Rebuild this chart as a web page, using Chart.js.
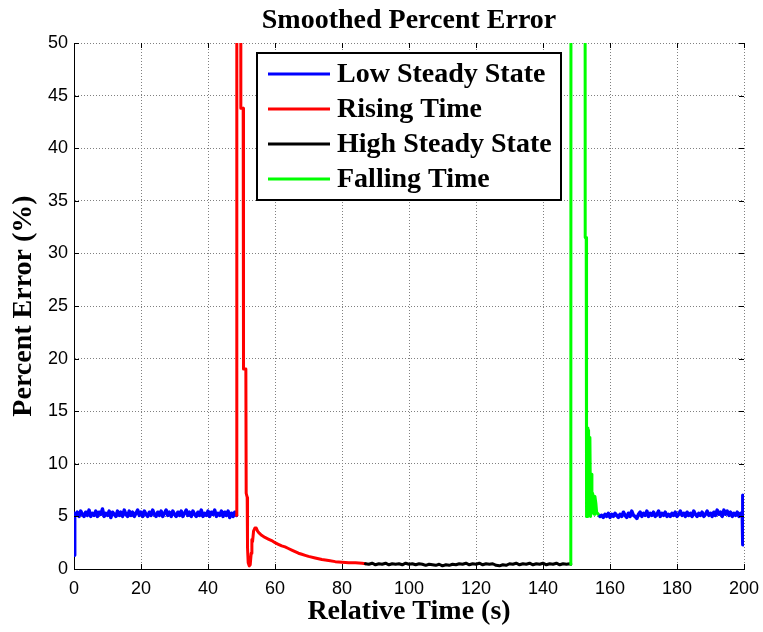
<!DOCTYPE html>
<html>
<head>
<meta charset="utf-8">
<script src="https://cdn.jsdelivr.net/npm/chart.js@4/dist/chart.umd.min.js"></script>
<style>
html,body{margin:0;padding:0;background:#fff;}
canvas{display:block;}
</style>
</head>
<body>
<canvas id="c" width="763" height="632"></canvas>
<script>
// ---- Data ----
const chartTitle = 'Smoothed Percent Error';
const xTitle = 'Relative Time (s)';
const yTitle = 'Percent Error (%)';
const legendLabels = ['Low Steady State', 'Rising Time', 'High Steady State', 'Falling Time'];
const seriesColors = ['#0000ff', '#ff0000', '#000000', '#00ff00'];

const lowTimes1 = [0, 0.2,
  0.5, 1, 1.5, 2, 2.5, 3, 3.5, 4, 4.5, 5,
  5.5, 6, 6.5, 7, 7.5, 8, 8.5, 9, 9.5, 10,
  10.5, 11, 11.5, 12, 12.5, 13, 13.5, 14, 14.5, 15,
  15.5, 16, 16.5, 17, 17.5, 18, 18.5, 19, 19.5, 20,
  20.5, 21, 21.5, 22, 22.5, 23, 23.5, 24, 24.5, 25,
  25.5, 26, 26.5, 27, 27.5, 28, 28.5, 29, 29.5, 30,
  30.5, 31, 31.5, 32, 32.5, 33, 33.5, 34, 34.5, 35,
  35.5, 36, 36.5, 37, 37.5, 38, 38.5, 39, 39.5, 40,
  40.5, 41, 41.5, 42, 42.5, 43, 43.5, 44, 44.5, 45,
  45.5, 46, 46.5, 47, 47.5, 48, 48.5];
const lowValues1 = [1.3, 5.3,
  5.1, 5.4, 5.0, 5.5, 5.2, 5.0, 5.4, 5.1, 5.6, 5.0,
  5.3, 5.1, 5.5, 5.0, 5.4, 5.2, 5.7, 5.0, 5.3, 5.1,
  5.5, 4.9, 5.4, 5.2, 5.0, 5.5, 5.1, 5.4, 5.0, 5.6,
  5.2, 5.0, 5.5, 5.1, 5.4, 5.0, 5.3, 5.6, 5.1, 5.4,
  5.0, 5.5, 5.2, 5.0, 5.4, 5.1, 5.6, 5.2, 5.0, 5.4,
  5.1, 5.5, 5.0, 5.3, 5.6, 5.1, 5.4, 5.0, 5.5, 5.2,
  5.0, 5.4, 5.1, 5.5, 5.0, 5.3, 5.6, 5.1, 5.4, 5.0,
  5.5, 5.2, 5.0, 5.4, 5.1, 5.6, 5.0, 5.3, 5.1, 5.5,
  5.0, 5.4, 5.2, 5.6, 5.0, 5.3, 5.1, 5.5, 5.0, 5.4,
  5.1, 5.5, 4.9, 5.3, 5.0, 5.4, 5.1];

const risingTimes = [48.5, 48.6, 49.7, 49.8, 50.5, 50.6, 51.3, 51.4, 51.7, 51.8,
  52.0, 52.3, 52.6, 52.9, 53.1, 53.3, 53.6, 54.0, 54.4, 54.8,
  55.3, 56, 57, 58, 59, 60, 61, 62, 63, 64,
  65, 66, 67, 68, 69, 70, 72, 74, 76, 78,
  80, 82, 84, 86, 87];
const risingValues = [5.1, 120, 120, 43.8, 43.8, 19, 19, 7.2, 6.8, 2.0,
  0.6, 0.3, 0.4, 1.5, 2.8, 2.6, 3.6, 3.9, 3.9, 3.6,
  3.4, 3.2, 3.0, 2.85, 2.7, 2.5, 2.35, 2.2, 2.1, 1.95,
  1.8, 1.65, 1.5, 1.4, 1.3, 1.2, 1.05, 0.9, 0.8, 0.7,
  0.65, 0.6, 0.6, 0.55, 0.5];

const highTimes = [87, 88, 89, 90, 91, 92, 93, 94, 95, 96,
  97, 98, 99, 100, 101, 102, 103, 104, 105, 106,
  107, 108, 109, 110, 111, 112, 113, 114, 115, 116,
  117, 118, 119, 120, 121, 122, 123, 124, 125, 126,
  127, 128, 129, 130, 131, 132, 133, 134, 135, 136,
  137, 138, 139, 140, 141, 142, 143, 144, 145, 146,
  147, 148, 148.3];
const highValues = [0.5, 0.45, 0.55, 0.4, 0.5, 0.45, 0.55, 0.4, 0.5, 0.45,
  0.5, 0.4, 0.55, 0.45, 0.5, 0.4, 0.5, 0.45, 0.35, 0.45,
  0.4, 0.35, 0.45, 0.3, 0.4, 0.35, 0.45, 0.4, 0.5, 0.45,
  0.55, 0.4, 0.5, 0.45, 0.55, 0.4, 0.5, 0.45, 0.5, 0.35,
  0.3, 0.4, 0.35, 0.5, 0.45, 0.55, 0.4, 0.5, 0.45, 0.55,
  0.4, 0.5, 0.45, 0.55, 0.4, 0.5, 0.45, 0.55, 0.4, 0.5,
  0.45, 0.5, 0.45];

const fallingTimes = [148.3, 148.4, 152.5, 152.6, 152.9, 153.0, 153.2, 153.4, 153.6, 153.8,
  154.0, 154.2, 154.4, 154.6, 154.8, 155.1, 155.3, 155.5, 155.8, 156.0,
  156.5, 157.0];
const fallingValues = [0.45, 120, 120, 31.5, 31.5, 5.0, 13.4, 5.0, 13.2, 5.2,
  12.5, 5.0, 9.0, 5.3, 7.2, 6.8, 5.2, 6.9, 6.2, 5.4,
  5.2, 5.0];

const lowTimes2 = [157,
  157.5, 158, 158.5, 159, 159.5, 160, 160.5, 161, 161.5, 162,
  162.5, 163, 163.5, 164, 164.5, 165, 165.5, 166, 166.5, 167,
  167.5, 168, 168.5, 169, 169.5, 170, 170.5, 171, 171.5, 172,
  172.5, 173, 173.5, 174, 174.5, 175, 175.5, 176, 176.5, 177,
  177.5, 178, 178.5, 179, 179.5, 180, 180.5, 181, 181.5, 182,
  182.5, 183, 183.5, 184, 184.5, 185, 185.5, 186, 186.5, 187,
  187.5, 188, 188.5, 189, 189.5, 190, 190.5, 191, 191.5, 192,
  192.5, 193, 193.5, 194, 194.5, 195, 195.5, 196, 196.5, 197,
  197.5, 198, 198.5, 199, 199.5, 199.6, 199.7, 199.8];
const lowValues2 = [5.0,
  5.1, 4.9, 5.2, 5.0, 5.3, 4.9, 5.2, 5.0, 5.3, 5.1,
  4.9, 5.2, 5.0, 5.4, 5.1, 4.9, 5.3, 5.0, 5.5, 5.1,
  5.0, 4.8, 5.2, 5.4, 5.0, 5.3, 5.1, 5.5, 5.0, 5.3,
  5.1, 5.4, 5.0, 5.2, 5.5, 5.0, 5.3, 5.1, 5.4, 5.0,
  5.2, 5.0, 5.3, 5.1, 5.4, 5.0, 5.2, 5.5, 5.1, 5.3,
  5.0, 5.4, 5.1, 5.3, 5.0, 5.5, 5.2, 5.0, 5.3, 5.1,
  5.4, 5.0, 5.2, 5.5, 5.1, 5.3, 5.0, 5.4, 5.1, 5.6,
  5.2, 5.4, 5.0, 5.6, 5.2, 5.5, 5.1, 5.4, 5.0, 5.3,
  5.1, 5.4, 5.0, 5.3, 5.1, 7.0, 2.3, 5.0];

const xMin = 0, xMax = 200, xStep = 20;
const yMin = 0, yMax = 50, yStep = 5;

// ---- Build datasets ----
function pairs(ts, vs) { return ts.map((t, i) => ({x: t, y: vs[i]})); }
function lineSet(label, color, ts, vs, order, width) {
  return {
    label: label, data: pairs(ts, vs), borderColor: color, backgroundColor: color,
    borderWidth: width, pointRadius: 0, tension: 0, fill: false, order: order,
    borderJoinStyle: 'round', borderCapStyle: 'round'
  };
}
const datasets = [
  lineSet(legendLabels[0], seriesColors[0], lowTimes1, lowValues1, 5, 3.5),
  lineSet(legendLabels[1], seriesColors[1], risingTimes, risingValues, 4, 3),
  lineSet(legendLabels[2], seriesColors[2], highTimes, highValues, 3, 3),
  lineSet(legendLabels[3], seriesColors[3], fallingTimes, fallingValues, 2, 3),
  lineSet(legendLabels[0], seriesColors[0], lowTimes2, lowValues2, 1, 3.5)
];

const serif = "'Liberation Serif', 'Times New Roman', serif";
const sans = "'Liberation Sans', Arial, sans-serif";

// Title centred over the plot area
const plotTitle = {
  id: 'plotTitle',
  afterDraw(chart) {
    const {ctx, chartArea: a} = chart;
    ctx.save();
    ctx.font = 'bold 28px ' + serif;
    ctx.fillStyle = '#000';
    ctx.textAlign = 'center';
    ctx.textBaseline = 'alphabetic';
    ctx.fillText(chartTitle, (a.left + a.right) / 2, a.top - 15);
    ctx.restore();
  }
};

// Inward tick marks on all four sides (MATLAB style), from the scales' ticks
const innerTicks = {
  id: 'innerTicks',
  afterDatasetsDraw(chart) {
    const {ctx, chartArea: a, scales: {x, y}} = chart;
    ctx.save();
    ctx.strokeStyle = '#000';
    ctx.lineWidth = 1;
    const L = 5;
    ctx.beginPath();
    x.ticks.forEach(t => {
      const px = Math.round(x.getPixelForValue(t.value)) + 0.5;
      ctx.moveTo(px, a.bottom); ctx.lineTo(px, a.bottom - L);
      ctx.moveTo(px, a.top); ctx.lineTo(px, a.top + L);
    });
    y.ticks.forEach(t => {
      const py = Math.round(y.getPixelForValue(t.value)) + 0.5;
      ctx.moveTo(a.left, py); ctx.lineTo(a.left + L, py);
      ctx.moveTo(a.right, py); ctx.lineTo(a.right - L, py);
    });
    ctx.stroke();
    ctx.restore();
  }
};

// Boxed legend inside the plot area (upper middle), like MATLAB's
const boxLegend = {
  id: 'boxLegend',
  afterDraw(chart) {
    const {ctx, chartArea: a} = chart;
    const bx = a.left + 183, by = a.top + 10, bw = 304, bh = 147;
    ctx.save();
    ctx.fillStyle = '#fff';
    ctx.fillRect(bx, by, bw, bh);
    ctx.strokeStyle = '#000';
    ctx.lineWidth = 2;
    ctx.strokeRect(bx, by, bw, bh);
    ctx.font = 'bold 28px ' + serif;
    ctx.textBaseline = 'middle';
    ctx.textAlign = 'left';
    legendLabels.forEach((lab, i) => {
      const ly = by + 21 + i * 35;
      ctx.strokeStyle = seriesColors[i];
      ctx.lineWidth = 3;
      ctx.beginPath();
      ctx.moveTo(bx + 11, ly); ctx.lineTo(bx + 73, ly);
      ctx.stroke();
      ctx.fillStyle = '#000';
      ctx.fillText(lab, bx + 80, ly + 1);
    });
    ctx.restore();
  }
};

new Chart(document.getElementById('c'), {
  type: 'line',
  data: { datasets: datasets },
  options: {
    responsive: false,
    animation: false,
    devicePixelRatio: 1,
    layout: { padding: { left: 0, right: 19, top: 43, bottom: 0 } },
    plugins: {
      legend: { display: false },
      tooltip: { enabled: false },
      title: { display: false }
    },
    scales: {
      x: {
        type: 'linear', min: xMin, max: xMax,
        ticks: { stepSize: xStep, color: '#000', padding: 9, maxRotation: 0,
                 font: { family: sans, size: 18 } },
        grid: { color: '#808080', lineWidth: 1, drawTicks: false },
        border: { display: true, color: '#000', width: 1, dash: [1, 2] },
        title: { display: true, text: xTitle, color: '#000',
                 font: { family: serif, size: 28, weight: 'bold', lineHeight: 1.2 },
                 padding: { top: 0, bottom: 3.5 } },
        afterFit(s) { s.height = 63; s.paddingLeft = 0; s.paddingRight = 0; }
      },
      y: {
        type: 'linear', min: yMin, max: yMax,
        ticks: { stepSize: yStep, color: '#000', padding: 6,
                 font: { family: sans, size: 18 } },
        grid: { color: '#808080', lineWidth: 1, drawTicks: false },
        border: { display: true, color: '#000', width: 1, dash: [1, 2] },
        title: { display: true, text: yTitle, color: '#000',
                 font: { family: serif, size: 28, weight: 'bold', lineHeight: 1.2 },
                 padding: { top: 6.8, bottom: 0 } },
        afterFit(s) { s.width = 74; s.paddingTop = 0; s.paddingBottom = 0; }
      }
    }
  },
  plugins: [innerTicks, boxLegend, plotTitle]
});
</script>
</body>
</html>
